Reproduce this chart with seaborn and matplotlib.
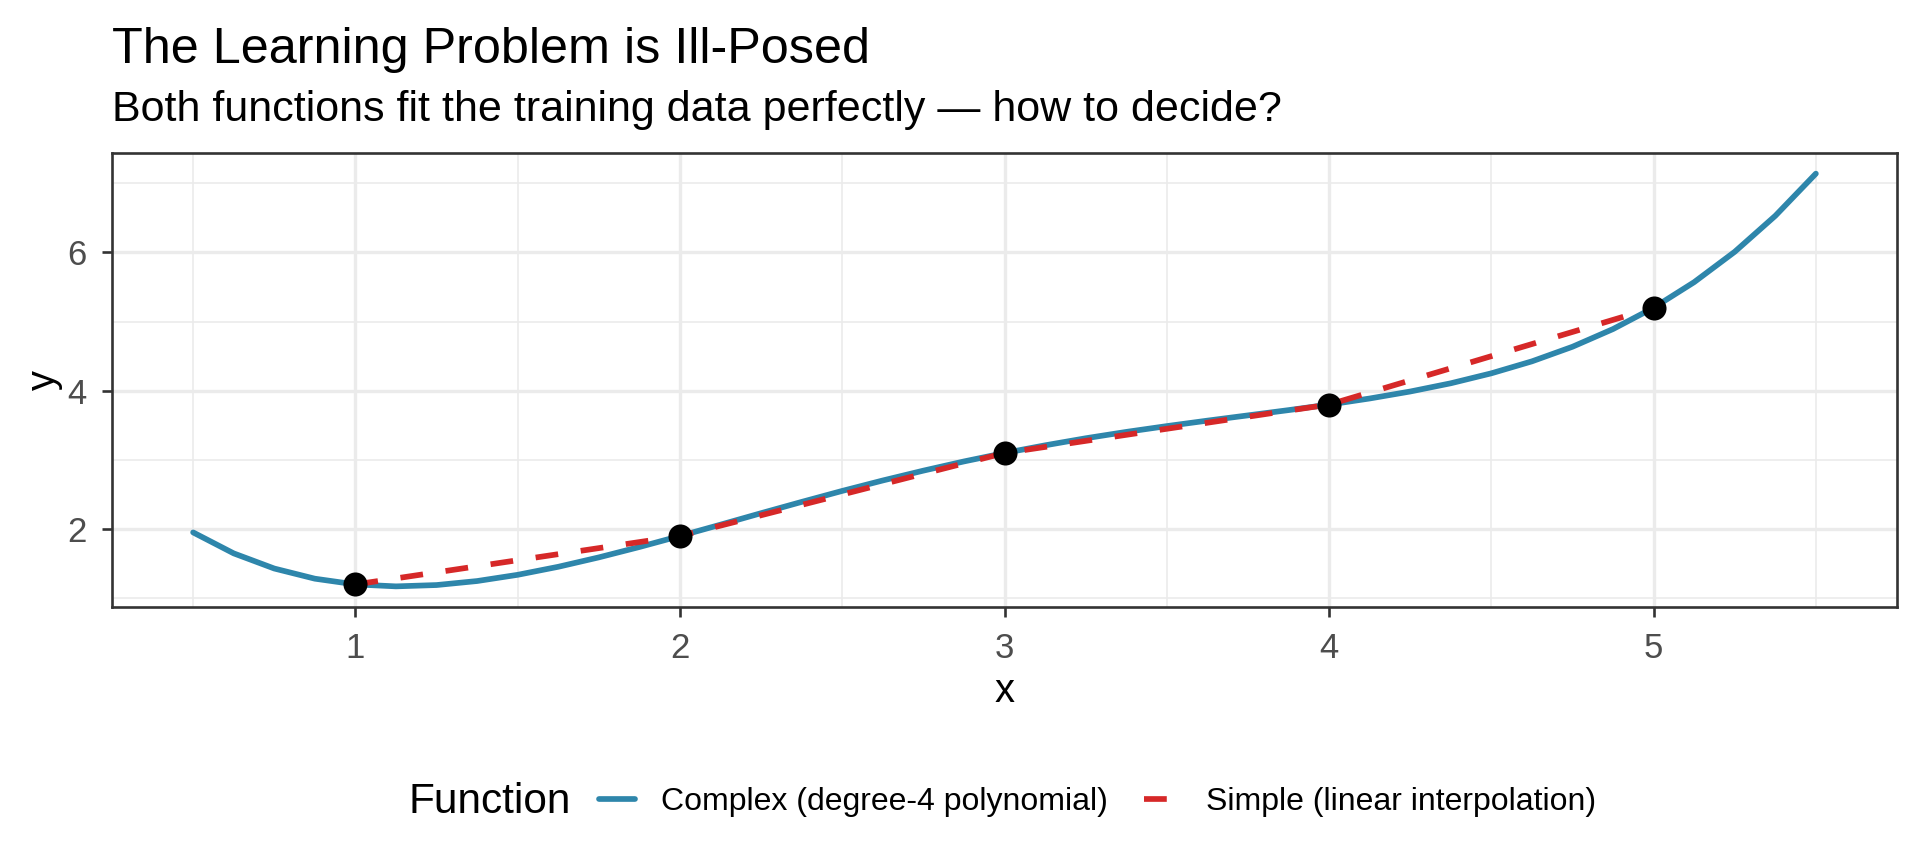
import matplotlib

matplotlib.use("Agg")

import matplotlib.pyplot as plt
import pandas as pd
import seaborn as sns
from matplotlib.ticker import MultipleLocator

TITLE = "The Learning Problem is Ill-Posed"
SUBTITLE = "Both functions fit the training data perfectly — how to decide?"
LEGEND_TITLE = "Function"

# training points
train_x = [1, 2, 3, 4, 5]
train_y = [1.2, 1.9, 3.1, 3.8, 5.2]

# complex curve, every 0.125
complex_x = [0.5, 0.625, 0.75, 0.875, 1.0, 1.125, 1.25, 1.375, 1.5, 1.625, 1.75, 1.875,
             2.0, 2.125, 2.25, 2.375, 2.5, 2.625, 2.75, 2.875, 3.0, 3.125, 3.25, 3.375,
             3.5, 3.625, 3.75, 3.875, 4.0, 4.125, 4.25, 4.375, 4.5, 4.625, 4.75, 4.875,
             5.0, 5.125, 5.25, 5.375, 5.5]
complex_y = [1.952, 1.649, 1.430, 1.283, 1.200, 1.172, 1.191, 1.249, 1.339, 1.455, 1.591, 1.741,
             1.900, 2.064, 2.230, 2.393, 2.552, 2.703, 2.845, 2.978, 3.100, 3.211, 3.313, 3.405,
             3.489, 3.568, 3.644, 3.720, 3.800, 3.888, 3.989, 4.108, 4.252, 4.425, 4.636, 4.892,
             5.200, 5.570, 6.009, 6.529, 7.139]

series_names = ["Complex (degree-4 polynomial)", "Simple (linear interpolation)"]
series_colors = ["#2E86AB", "#D62828"]

W, H = 1920, 864


def main() -> None:
    sns.set_theme(style="whitegrid")
    plt.rcParams["font.family"] = ["Liberation Sans", "DejaVu Sans"]
    plt.rcParams["text.color"] = "black"

    complex_df = pd.DataFrame({"x": complex_x, "y": complex_y})
    simple_df = pd.DataFrame({"x": train_x, "y": train_y})

    fig = plt.figure(figsize=(W / 100, H / 100), dpi=100)
    fig.patch.set_facecolor("white")
    ax = fig.add_axes([112 / W, (H - 607) / H, (1897 - 112) / W, (607 - 153) / H])
    ax.set_facecolor("white")

    sns.lineplot(data=complex_df, x="x", y="y", color=series_colors[0], linewidth=4.1,
                 label=series_names[0], ax=ax, zorder=3)
    sns.lineplot(data=simple_df, x="x", y="y", color=series_colors[1], linewidth=4.1,
                 linestyle=(0, (4, 4)), label=series_names[1], ax=ax, zorder=4)
    sns.scatterplot(data=simple_df, x="x", y="y", color="black", s=300, linewidth=0,
                    ax=ax, zorder=5)

    all_x = complex_x + train_x
    all_y = complex_y + train_y
    xr = max(all_x) - min(all_x)
    yr = max(all_y) - min(all_y)
    ax.set_xlim(min(all_x) - 0.05 * xr, max(all_x) + 0.05 * xr)
    ax.set_ylim(min(all_y) - 0.05 * yr, max(all_y) + 0.05 * yr)

    ax.xaxis.set_major_locator(MultipleLocator(1))
    ax.xaxis.set_minor_locator(MultipleLocator(0.5))
    ax.yaxis.set_major_locator(MultipleLocator(2))
    ax.yaxis.set_minor_locator(MultipleLocator(1))
    ax.set_axisbelow(True)
    ax.grid(which="major", color="#EBEBEB", linewidth=2.4)
    ax.grid(which="minor", color="#EBEBEB", linewidth=1.2)
    ax.tick_params(which="major", length=7.2, width=1.9, color="#333333", pad=11,
                   labelsize=25, labelcolor="#4D4D4D", bottom=True, left=True)
    ax.tick_params(which="minor", length=0)
    for spine in ax.spines.values():
        spine.set_visible(True)
        spine.set_color("#333333")
        spine.set_linewidth(1.9)

    ax.set_xlabel("x", fontsize=28.8, color="black", labelpad=5)
    ax.set_ylabel("y", fontsize=28.8, color="black", labelpad=3)

    handles, labels = ax.get_legend_handles_labels()
    ax.get_legend().remove()
    fig.legend(handles, labels, loc="center left", bbox_to_anchor=(599 / W, 1 - 802 / H),
               ncol=2, frameon=False, fontsize=23, handlelength=1.13, handletextpad=0.8,
               columnspacing=1.15, borderpad=0, borderaxespad=0)
    fig.text(408 / W, 1 - 802 / H, LEGEND_TITLE, fontsize=30.5, va="center", ha="left")

    fig.text(112 / W, 1 - 63 / H, TITLE, fontsize=36.3, va="baseline", ha="left")
    fig.text(112 / W, 1 - 121 / H, SUBTITLE, fontsize=31, va="baseline", ha="left")

    fig.savefig("out.png", dpi=100, facecolor="white")
    plt.close(fig)


if __name__ == "__main__":
    main()
